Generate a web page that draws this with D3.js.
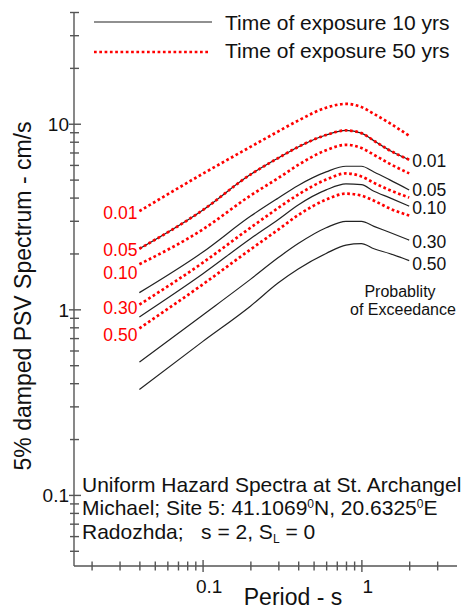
<!DOCTYPE html>
<html>
<head>
<meta charset="utf-8">
<script src="https://cdn.jsdelivr.net/npm/d3@7"></script>
<style>
  body { margin: 0; background: #fff; }
  svg { font-family: "Liberation Sans", Arial, sans-serif; }
  .axis path, .axis line { stroke: #555; stroke-width: 1.4; }
  .axis text { font-size: 19px; fill: #111; }
</style>
</head>
<body>
<svg id="chart" width="472" height="610"></svg>
<script>
// periods (s) at which the spectra were read
var periods = [0.04, 0.1, 0.2, 0.3, 0.4, 0.6, 0.8, 1.0, 1.2, 1.5, 2.0];
var probLabels = ["0.01", "0.05", "0.10", "0.30", "0.50"];

// 5% damped PSV (cm/s), time of exposure 10 yrs
var psv10_001 = [2.12, 3.42, 5.32, 6.54, 7.5, 8.7, 9.2, 8.9, 8.1, 7.2, 6.4];
var psv10_005 = [1.23, 2.03, 3.17, 3.98, 4.65, 5.5, 5.9, 5.9, 5.5, 5.0, 4.4];
var psv10_010 = [0.91, 1.55, 2.40, 3.05, 3.65, 4.4, 4.74, 4.7, 4.33, 4.0, 3.6];
var psv10_030 = [0.52, 0.93, 1.45, 1.90, 2.26, 2.75, 2.98, 2.98, 2.8, 2.6, 2.36];
var psv10_050 = [0.37, 0.67, 1.04, 1.39, 1.65, 2.0, 2.22, 2.26, 2.12, 2.0, 1.83];

// time of exposure 50 yrs
var psv50_001 = [3.38, 5.37, 7.5, 9.1, 10.4, 12.2, 12.8, 12.3, 11.3, 10.1, 8.6];
var psv50_005 = [2.12, 3.42, 5.32, 6.54, 7.5, 8.7, 9.2, 8.9, 8.1, 7.2, 6.4];
var psv50_010 = [1.75, 2.69, 4.1, 5.1, 6.0, 7.2, 7.7, 7.4, 6.8, 6.1, 5.4];
var psv50_030 = [1.06, 1.78, 2.75, 3.52, 4.15, 5.0, 5.4, 5.2, 4.8, 4.4, 4.0];
var psv50_050 = [0.79, 1.36, 2.10, 2.69, 3.22, 3.9, 4.2, 4.1, 3.85, 3.5, 3.2];

var series10 = [psv10_001, psv10_005, psv10_010, psv10_030, psv10_050];
var series50 = [psv50_001, psv50_005, psv50_010, psv50_030, psv50_050];

var xTicks = [0.02, 0.03, 0.04, 0.05, 0.06, 0.07, 0.08, 0.09, 0.1, 0.2, 0.3, 0.4, 0.5, 0.6, 0.7, 0.8, 0.9, 1, 2, 3];
var yTicks = [0.05, 0.06, 0.07, 0.08, 0.09, 0.1, 0.2, 0.3, 0.4, 0.5, 0.6, 0.7, 0.8, 0.9, 1,
              2, 3, 4, 5, 6, 7, 8, 9, 10, 20, 30, 40];
var majors = [0.1, 1, 10];

var svg = d3.select("#chart");

var x = d3.scaleLog().domain([0.0155, 4]).range([74, 457]);
var y = d3.scaleLog().domain([0.0414, 40]).range([566, 12]);

// axes, tick marks crossing the axis line
var xAxis = svg.append("g").attr("class", "axis")
    .attr("transform", "translate(0,566)")
    .call(d3.axisBottom(x).tickValues(xTicks).tickSizeOuter(0)
          .tickFormat(function(d) { return majors.indexOf(d) >= 0 ? d3.format("")(d) : ""; }));
xAxis.selectAll(".tick line")
    .attr("y1", function(d) { return majors.indexOf(d) >= 0 ? -6 : -4.5; })
    .attr("y2", function(d) { return majors.indexOf(d) >= 0 ? 6 : 4.5; });
xAxis.selectAll(".tick text").attr("y", 0).attr("dy", 27).attr("dx", 6);
xAxis.select(".domain").attr("d", "M74,0H457");

var yAxis = svg.append("g").attr("class", "axis")
    .attr("transform", "translate(74,0)")
    .call(d3.axisLeft(y).tickValues(yTicks).tickSizeOuter(0)
          .tickFormat(function(d) { return majors.indexOf(d) >= 0 ? d3.format("")(d) : ""; }));
yAxis.selectAll(".tick line")
    .attr("x1", function(d) { return majors.indexOf(d) >= 0 ? -5 : -4; })
    .attr("x2", function(d) { return majors.indexOf(d) >= 0 ? 7 : 5; });
yAxis.selectAll(".tick text").attr("x", -5).attr("dy", "0.36em");
yAxis.select(".domain").attr("d", "M0,12V566");

var line = d3.line()
    .curve(d3.curveMonotoneX)
    .x(function(d, i) { return x(periods[i]); })
    .y(function(d) { return y(d); });

svg.append("g").selectAll("path")
    .data(series10).enter().append("path")
    .attr("d", line)
    .attr("fill", "none").attr("stroke", "#222").attr("stroke-width", 1.2);

svg.append("g").selectAll("path")
    .data(series50).enter().append("path")
    .attr("d", line)
    .attr("fill", "none").attr("stroke", "#f00")
    .attr("stroke-width", 2.7).attr("stroke-dasharray", "2.7,2.6");

// probability labels: black on the right end, red on the left start
var last = periods.length - 1;
var rightDy = [1, 0, 2, 2, 3];
svg.append("g").selectAll("text")
    .data(series10).enter().append("text")
    .attr("x", x(periods[last]) + 3)
    .attr("y", function(d, i) { return y(d[last]) + rightDy[i]; })
    .attr("dy", "0.36em")
    .style("font-size", "17.5px").attr("fill", "#111")
    .text(function(d, i) { return probLabels[i]; });

var leftDy = [2, 1, 8, 3, 6];
svg.append("g").selectAll("text")
    .data(series50).enter().append("text")
    .attr("x", x(periods[0]) - 2)
    .attr("y", function(d, i) { return y(d[0]) + leftDy[i]; })
    .attr("dy", "0.36em").attr("text-anchor", "end")
    .style("font-size", "17.5px").attr("fill", "#f00")
    .text(function(d, i) { return probLabels[i]; });

svg.append("text").attr("x", 400).attr("y", 296.5).attr("text-anchor", "middle")
    .style("font-size", "16px").attr("fill", "#111").text("Probablity");
svg.append("text").attr("x", 403).attr("y", 314.5).attr("text-anchor", "middle")
    .style("font-size", "16px").attr("fill", "#111").text("of Exceedance");

// legend
var legend = svg.append("g");
legend.append("line").attr("x1", 94).attr("x2", 212).attr("y1", 22).attr("y2", 22)
    .attr("stroke", "#222").attr("stroke-width", 1.2);
legend.append("line").attr("x1", 94).attr("x2", 210).attr("y1", 52).attr("y2", 52)
    .attr("stroke", "#f00").attr("stroke-width", 2.7).attr("stroke-dasharray", "2.7,2.6");
legend.append("text").attr("x", 225).attr("y", 29.5).style("font-size", "21px")
    .attr("fill", "#111").text("Time of exposure 10 yrs");
legend.append("text").attr("x", 225).attr("y", 57.5).style("font-size", "21px")
    .attr("fill", "#111").text("Time of exposure 50 yrs");

// axis titles
svg.append("text").attr("transform", "translate(31,296) rotate(-90)")
    .attr("text-anchor", "middle").style("font-size", "23px").attr("fill", "#111")
    .text("5% damped PSV Spectrum - cm/s");
svg.append("text").attr("x", 293).attr("y", 605).attr("text-anchor", "middle")
    .style("font-size", "23px").attr("fill", "#111").text("Period - s");

// site note
var note = svg.append("text").attr("x", 82).style("font-size", "21px").attr("fill", "#111");
note.append("tspan").attr("x", 82).attr("y", 492).text("Uniform Hazard Spectra at St. Archangel");
var l2 = note.append("tspan").attr("x", 82).attr("y", 515);
l2.append("tspan").text("Michael; Site 5: 41.1069");
l2.append("tspan").attr("dy", -7).style("font-size", "12px").text("0");
l2.append("tspan").attr("dy", 7).text("N, 20.6325");
l2.append("tspan").attr("dy", -7).style("font-size", "12px").text("0");
l2.append("tspan").attr("dy", 7).text("E");
var l3 = note.append("tspan").attr("x", 82).attr("y", 539).style("white-space", "pre");
l3.append("tspan").text("Radozhda;   s = 2, S");
l3.append("tspan").attr("dy", 4).style("font-size", "12px").text("L");
l3.append("tspan").attr("dy", -4).text(" = 0");
</script>
</body>
</html>
